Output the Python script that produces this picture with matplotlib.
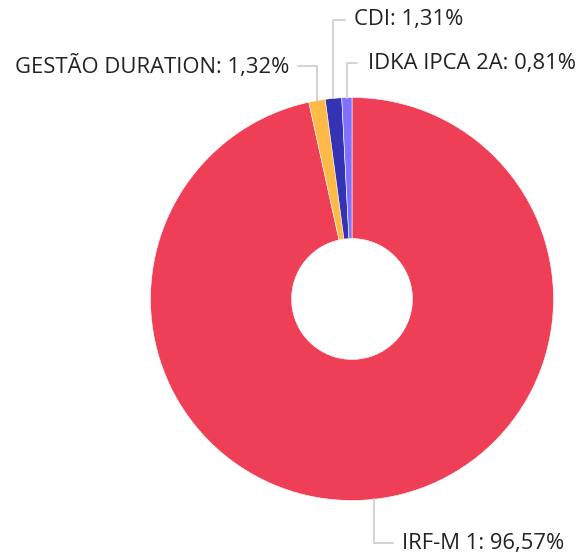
import matplotlib
matplotlib.use("Agg")
import matplotlib.pyplot as plt
import numpy as np

labels = ["IRF-M 1", "GESTÃO DURATION", "CDI", "IDKA IPCA 2A"]
values = [96.57, 1.32, 1.31, 0.81]
colors = ["#EF3F56", "#FFB946", "#3333B3", "#7F70FF"]

W, H = 582, 557
cx, cy, R = 352, 299, 201.5

fig = plt.figure(figsize=(W / 100, H / 100), dpi=100)
ax = fig.add_axes([(cx - R) / W, (H - cy - R) / H, 2 * R / W, 2 * R / H])

wedges, _ = ax.pie(values, colors=colors, startangle=90, counterclock=False,
                   radius=1.0, wedgeprops=dict(width=0.70, edgecolor="white", linewidth=0.4))
ax.set_aspect("auto")
ax.set_xlim(-1, 1)
ax.set_ylim(-1, 1)
ax.axis("off")

def px2d(px, py):
    return (px - cx) / R, (cy - py) / R

# label layout: (elbow y in px, horizontal end x in px, text x in px, alignment)
layout = {
    "IRF-M 1": (543, 393, 402, "left"),
    "GESTÃO DURATION": (66, 298, 289, "right"),
    "CDI": (20, 345, 354, "left"),
    "IDKA IPCA 2A": (63, 357, 368, "left"),
}

for w, lab, val in zip(wedges, labels, values):
    ang = np.deg2rad((w.theta1 + w.theta2) / 2)
    x0, y0 = np.cos(ang), np.sin(ang)
    ey_px, hx_px, tx_px, ha = layout[lab]
    _, ey = px2d(0, ey_px)
    hx, _ = px2d(hx_px, 0)
    tx, _ = px2d(tx_px, 0)
    ax.plot([x0, x0, hx], [y0, ey, ey], color="#CCCCCC", lw=1.2, clip_on=False,
            solid_joinstyle="miter")
    txt = f"{lab}: {val:.2f}%".replace(".", ",")
    ax.text(tx, ey, txt, ha=ha, va="center", fontsize=15.8, family="Open Sans",
            color="#222222", clip_on=False)

fig.savefig("out.png", dpi=100)
